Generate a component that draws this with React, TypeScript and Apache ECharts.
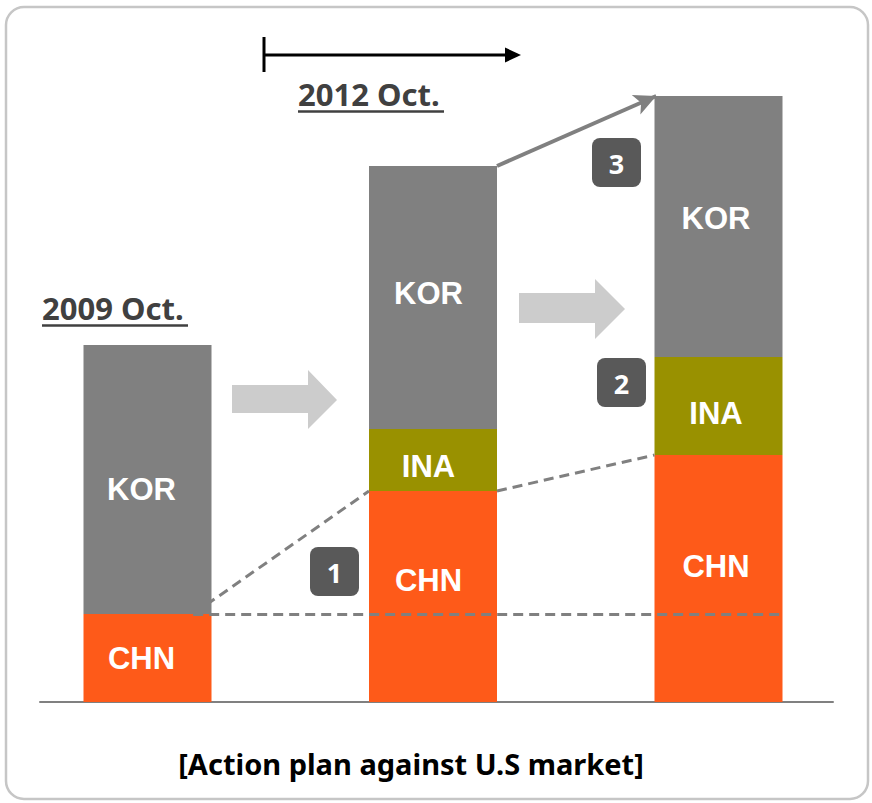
import React, { useEffect, useRef } from "react";
import * as echarts from "echarts";

// ---- data ----
const categories = ["2009 Oct.", "2012 Oct.", "Target"];
const chnValues = [88, 211, 247];
const inaValues = [0, 62, 98];
const korValues = [269, 263, 261];
const yMax = 606;

// label nudges (styling, not data)
const labelDx = [-6, -4.5, -2.5];
const chnOffsets = [0, -16, -12];
const inaOffsets = [0, 6, 7];
const korOffsets = [10, -4, -8];

const COLORS = { CHN: "#FE5A19", INA: "#999100", KOR: "#808080" };

// helper value-axis position of each category (1,2,3) for connector lines
const BAR_HALF = 64 / 285.5;

function buildSeriesData(vals: number[], offs: number[]) {
  return vals.map((v, i) => ({
    value: v,
    label: { offset: [labelDx[i], offs[i]], show: v > 0 },
  }));
}

export default function App() {
  const ref = useRef<HTMLDivElement>(null);
  useEffect(() => {
    if (!ref.current) return;
    const chart = echarts.init(ref.current, undefined, { renderer: "svg" });
    const labelStyle = {
      show: true,
      position: "inside",
      formatter: "{a}",
      color: "#ffffff",
      fontFamily: "Liberation Sans, Arial, sans-serif",
      fontWeight: "bold",
      fontSize: 31,
    };
    const total2 = chnValues[1] + inaValues[1] + korValues[1];
    const total3 = chnValues[2] + inaValues[2] + korValues[2];
    const dashStyle = { color: "#808080", width: 3, type: [10, 6] as any };

    const barSeries = (name: "CHN" | "INA" | "KOR", vals: number[], offs: number[]) => ({
      name,
      type: "bar",
      stack: "s",
      barWidth: 128,
      xAxisIndex: 0,
      yAxisIndex: 0,
      itemStyle: { color: COLORS[name] },
      label: labelStyle,
      data: buildSeriesData(vals, offs),
      z: 2,
    });

    chart.setOption({
      animation: false,
      grid: [
        { left: 4.75, right: 10.75, top: 96, bottom: 101 },
        { left: 40, right: 39, top: 96, bottom: 101 },
      ],
      xAxis: [
        {
          type: "category",
          gridIndex: 0,
          data: categories,
          show: false,
        },
        {
          type: "value",
          gridIndex: 1,
          min: 1 - 107.5 / 285.5,
          max: 3 + 114.5 / 285.5,
          axisLine: { show: true, lineStyle: { color: "#808080", width: 2 } },
          axisTick: { show: false },
          axisLabel: { show: false },
          splitLine: { show: false },
        },
      ],
      yAxis: [
        { type: "value", gridIndex: 0, min: 0, max: yMax, show: false, splitLine: { show: false } },
        { type: "value", gridIndex: 1, min: 0, max: yMax, show: false, splitLine: { show: false } },
      ],
      series: [
        barSeries("CHN", chnValues, chnOffsets),
        barSeries("INA", inaValues, inaOffsets),
        barSeries("KOR", korValues, korOffsets),
        {
          name: "links",
          type: "line",
          xAxisIndex: 1,
          yAxisIndex: 1,
          data: [],
          z: 5,
          markLine: {
            silent: true,
            symbol: ["none", "none"],
            label: { show: false },
            data: [
              [
                { coord: [1.16, chnValues[0]], lineStyle: dashStyle },
                { coord: [2 - BAR_HALF, chnValues[1]] },
              ],
              [
                { coord: [2 + BAR_HALF, chnValues[1]], lineStyle: dashStyle },
                { coord: [3 - BAR_HALF, chnValues[2]] },
              ],
              [
                { coord: [1.16, chnValues[0]], lineStyle: dashStyle },
                { coord: [3 + BAR_HALF, chnValues[0]] },
              ],
              [
                {
                  coord: [2 + BAR_HALF, total2],
                  symbol: "none",
                  lineStyle: { color: "#808080", width: 4, type: "solid" },
                },
                {
                  coord: [3 - BAR_HALF + 0.006, total3],
                  symbol: "arrow",
                  symbolSize: [16, 22],
                },
              ],
            ],
          },
        },
      ],
      graphic: [
        {
          type: "rect",
          shape: { x: 6, y: 7, width: 862, height: 792, r: 18 },
          style: { fill: "none", stroke: "#c6c6c6", lineWidth: 2.5 },
          z: 0,
        },
        // timeline
        {
          type: "line",
          shape: { x1: 264, y1: 37, x2: 264, y2: 72 },
          style: { stroke: "#000", lineWidth: 3 },
        },
        {
          type: "line",
          shape: { x1: 264, y1: 55, x2: 507, y2: 55 },
          style: { stroke: "#000", lineWidth: 3 },
        },
        {
          type: "polygon",
          shape: { points: [[505, 47.5], [521, 55], [505, 62.5]] },
          style: { fill: "#000" },
        },
        // period titles
        {
          type: "text",
          x: 298,
          y: 94,
          style: {
            text: "2012 Oct.",
            fill: "#404040",
            font: "bold 31px 'Noto Sans', sans-serif",
            textAlign: "left",
            textVerticalAlign: "middle",
          },
        },
        {
          type: "line",
          shape: { x1: 298, y1: 111.5, x2: 444, y2: 111.5 },
          style: { stroke: "#404040", lineWidth: 2.5 },
        },
        {
          type: "text",
          x: 42,
          y: 307.5,
          style: {
            text: "2009 Oct.",
            fill: "#404040",
            font: "bold 31px 'Noto Sans', sans-serif",
            textAlign: "left",
            textVerticalAlign: "middle",
          },
        },
        {
          type: "line",
          shape: { x1: 42, y1: 325.5, x2: 188, y2: 325.5 },
          style: { stroke: "#404040", lineWidth: 2.5 },
        },
        // block arrows
        {
          type: "polygon",
          shape: {
            points: [
              [232, 385], [308, 385], [308, 370], [337, 400], [308, 429], [308, 413], [232, 413],
            ],
          },
          style: { fill: "#cccccc" },
        },
        {
          type: "polygon",
          shape: {
            points: [
              [519, 293], [595, 293], [595, 279], [625, 309], [595, 339], [595, 323], [519, 323],
            ],
          },
          style: { fill: "#cccccc" },
        },
        // badges
        ...[
          { x: 310, y: 547, t: "1" },
          { x: 597, y: 358, t: "2" },
          { x: 592, y: 138, t: "3" },
        ].flatMap((b) => [
          {
            type: "rect",
            shape: { x: b.x, y: b.y, width: 49, height: 49, r: 8 },
            style: { fill: "#595959" },
            z: 10,
          },
          {
            type: "text",
            x: b.x + 24.5,
            y: b.y + 25,
            z: 11,
            style: {
              text: b.t,
              fill: "#ffffff",
              font: "bold 27px 'Noto Sans', sans-serif",
              textAlign: "center",
              textVerticalAlign: "middle",
            },
          },
        ]),
        // caption
        {
          type: "text",
          x: 411,
          y: 763,
          style: {
            text: "[Action plan against U.S market]",
            fill: "#000000",
            font: "bold 29px 'Noto Sans', sans-serif",
            textAlign: "center",
            textVerticalAlign: "middle",
          },
        },
      ],
    });
    return () => chart.dispose();
  }, []);
  return (
    <div
      ref={ref}
      style={{ position: "fixed", left: 0, top: 0, width: 872, height: 803, background: "#fff" }}
    />
  );
}
